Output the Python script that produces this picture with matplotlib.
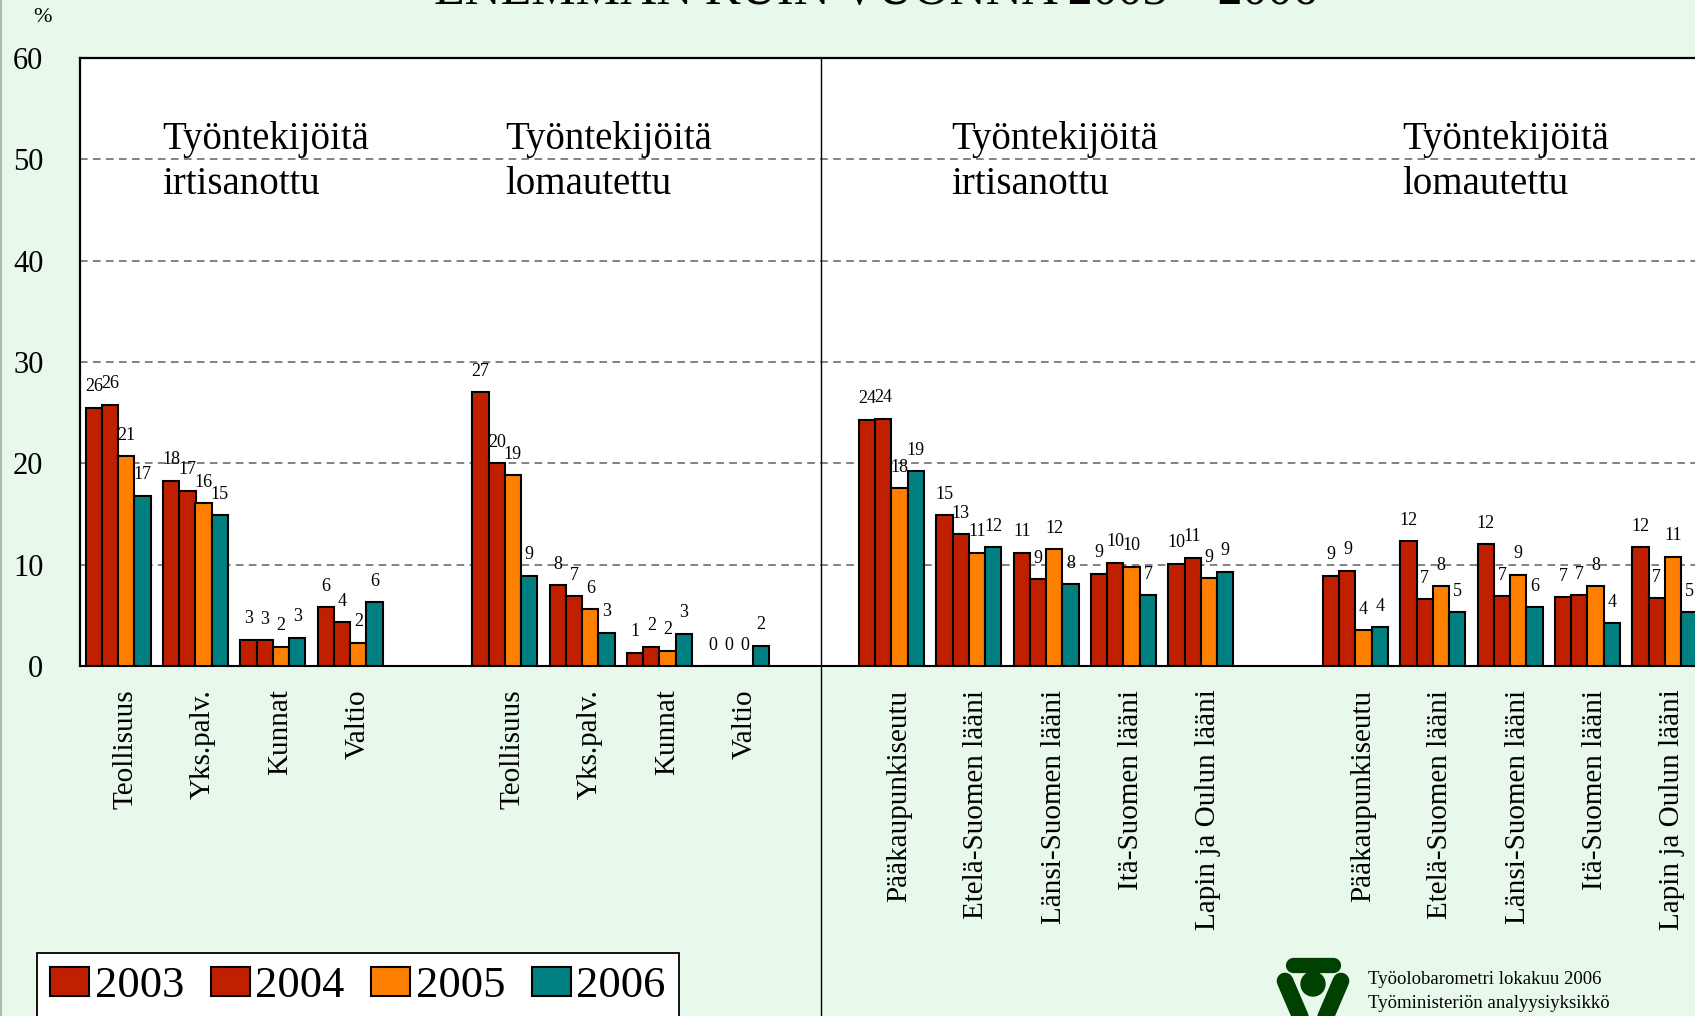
import numpy as np
import matplotlib
matplotlib.use('Agg')
import matplotlib.pyplot as plt
import matplotlib.transforms as mtransforms
from matplotlib.patches import Patch, Circle
from matplotlib.lines import Line2D

years = ['2003', '2004', '2005', '2006']
year_colors = ['#C02000', '#C02000', '#FF8000', '#008080']

sectors = ['Teollisuus', 'Yks.palv.', 'Kunnat', 'Valtio']
regions = ['Pääkaupunkiseutu', 'Etelä-Suomen lääni', 'Länsi-Suomen lääni',
           'Itä-Suomen lääni', 'Lapin ja Oulun lääni']

# % of workplaces, one row per category, columns 2003..2006
sector_dismissed = [[25.5, 25.8, 20.7, 16.8],
                    [18.3, 17.3, 16.1, 14.9],
                    [2.6, 2.52, 1.9, 2.8],
                    [5.8, 4.3, 2.3, 6.3]]
sector_laidoff = [[27.0, 20.0, 18.8, 8.9],
                  [8.0, 6.9, 5.6, 3.3],
                  [1.3, 1.9, 1.52, 3.2],
                  [0.0, 0.0, 0.0, 2.0]]
region_dismissed = [[24.3, 24.4, 17.54, 19.2],
                    [14.9, 13.0, 11.2, 11.7],
                    [11.2, 8.55, 11.52, 8.1],
                    [9.1, 10.2, 9.8, 7.0],
                    [10.1, 10.7, 8.7, 9.3]]
region_laidoff = [[8.9, 9.4, 3.52, 3.8],
                  [12.3, 6.6, 7.9, 5.3],
                  [12.0, 6.9, 9.0, 5.8],
                  [6.8, 7.0, 7.9, 4.2],
                  [11.7, 6.7, 10.8, 5.3]]

group_titles = ['Työntekijöitä\nirtisanottu', 'Työntekijöitä\nlomautettu',
                'Työntekijöitä\nirtisanottu', 'Työntekijöitä\nlomautettu']
group_title_x = [0.57, 5.0, 10.77, 16.6]

# one empty slot between the blocks
cats = sectors + [''] + sectors + [''] + regions + [''] + regions
rows = sector_dismissed + [None] + sector_laidoff + [None] + region_dismissed + [None] + region_laidoff

plt.rcParams['font.family'] = ['Liberation Serif', 'DejaVu Serif']

W, H = 1695, 1016
fig = plt.figure(figsize=(W / 100, H / 100), dpi=100)
fig.patch.set_facecolor('#E8F8EA')

def fx(px):
    return px / W

def fy(py):
    return 1 - py / H

# axes runs a bit past the right edge of the figure
ax = fig.add_axes([fx(79.5), fy(666), 1624 / W, 608 / H])
ax.set_facecolor('white')

x = np.arange(len(cats))
w = 0.21
for j, yr in enumerate(years):
    xs = [x[i] + (j - 1.5) * w for i, r in enumerate(rows) if r is not None]
    vals = [r[j] for r in rows if r is not None]
    ax.bar(xs, vals, w, color=year_colors[j], edgecolor='black', linewidth=1.5, zorder=3)
    for xi, v in zip(xs, vals):
        ax.annotate('%.0f' % v, (xi, v), xytext=(0, 15), textcoords='offset points',
                    ha='center', va='center', fontsize=13, zorder=4)

ax.set_xlim(-0.5, len(cats) - 0.5)
ax.set_ylim(0, 60)
ax.set_yticks(range(0, 61, 10))
ax.tick_params(axis='y', length=0, pad=26, labelsize=22)
for gy in range(10, 60, 10):
    ax.axhline(gy, color='#606060', lw=1.1, ls=(0, (5, 3.5)), zorder=1)

tick_pos = [i for i, c in enumerate(cats) if c]
ax.set_xticks(tick_pos, [cats[i] for i in tick_pos], rotation=90, fontsize=21)
ax.tick_params(axis='x', length=0, pad=17)
shift = mtransforms.ScaledTranslation(7.5 / 100, 0, fig.dpi_scale_trans)
for lbl in ax.get_xticklabels():
    lbl.set_transform(lbl.get_transform() + shift)

for side in ['left', 'top']:
    ax.spines[side].set_linewidth(1.6)
ax.spines['bottom'].set_linewidth(1.5)
ax.spines['right'].set_visible(False)

for gx, t in zip(group_title_x, group_titles):
    ax.text(gx, 53.8, t, fontsize=28, va='top', ha='left', linespacing=1.3)

# divider between sector and region halves
fig.add_artist(Line2D([fx(820.5), fx(820.5)], [fy(58), 0], color='black', lw=1.0))
# thin border on the left
fig.add_artist(Line2D([fx(0.8), fx(0.8)], [0, 1], color='#9FB09F', lw=1.2))

fig.text(fx(43), fy(18), '%', fontsize=16, ha='center', va='center')
fig.text(fx(876), fy(4), 'ENEMMÄN KUIN VUONNA 2003 – 2006', fontsize=36,
         ha='center', va='baseline')

handles = [Patch(facecolor=c, edgecolor='black', linewidth=1.5) for c in year_colors]
leg = fig.legend(handles, years, loc='upper left', bbox_to_anchor=(fx(37), fy(953)),
                 ncol=4, fontsize=32, frameon=True, fancybox=False, borderaxespad=0,
                 borderpad=0.3, handlelength=0.88, handleheight=0.63,
                 handletextpad=0.12, columnspacing=0.6)
leg.get_frame().set_edgecolor('black')
leg.get_frame().set_linewidth(1.3)
leg.get_frame().set_facecolor('white')
leg.get_frame().set_alpha(1)

# ministry logo
logo = '#004000'
fig.add_artist(Line2D([fx(1293), fx(1333)], [fy(964.5), fy(964.5)], color=logo,
                      lw=11, solid_capstyle='round'))
fig.add_artist(Line2D([fx(1285), fx(1306)], [fy(981), fy(1030)], color=logo,
                      lw=12, solid_capstyle='round'))
fig.add_artist(Line2D([fx(1341), fx(1320)], [fy(981), fy(1030)], color=logo,
                      lw=12, solid_capstyle='round'))
head = Circle((13.13, (H - 984) / 100), 0.12, transform=fig.dpi_scale_trans, color=logo)
fig.add_artist(head)

fig.text(fx(1368), fy(980), 'Työolobarometri lokakuu 2006', fontsize=13.5, va='center')
fig.text(fx(1368), fy(1004), 'Työministeriön analyysiyksikkö', fontsize=13.5, va='center')

fig.savefig('out.png', dpi=100, facecolor=fig.get_facecolor())
